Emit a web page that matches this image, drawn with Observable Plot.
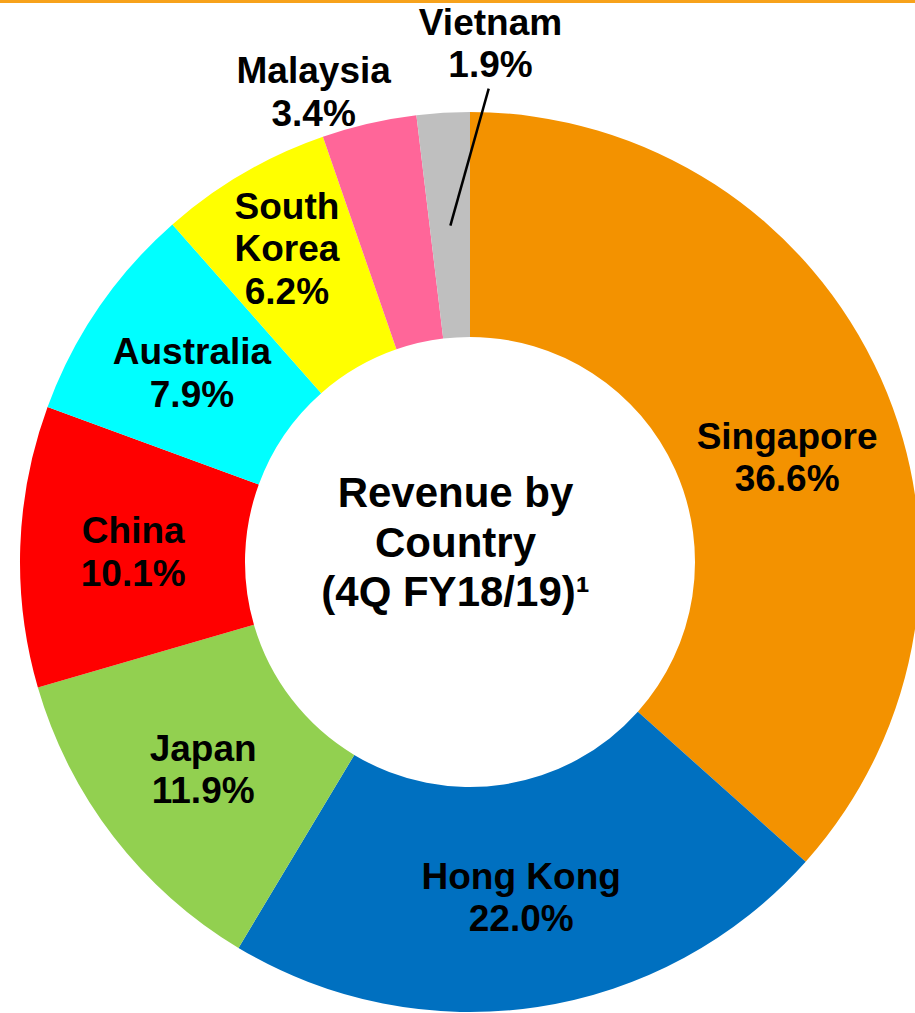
<!DOCTYPE html>
<html><head><meta charset="utf-8">
<script src="https://cdn.jsdelivr.net/npm/d3@7"></script>
<script src="https://cdn.jsdelivr.net/npm/@observablehq/plot@0.6"></script>
<style>body{margin:0;background:#fff} svg{display:block}</style>
</head><body><div id="chart"></div>
<script>
// ---- data ----
const countries = ["Singapore","Hong Kong","Japan","China","Australia","South Korea","Malaysia","Vietnam"];
const shares = [36.6, 22.0, 11.9, 10.1, 7.9, 6.2, 3.4, 1.9];
const labelNames = ["Singapore","Hong Kong","Japan","China","Australia","South\nKorea","Malaysia","Vietnam"];
const colors = ["#F39200","#0070C0","#92D050","#FF0000","#00FFFF","#FFFF00","#FF6699","#BFBFBF"];
const centerTitle = "Revenue by\nCountry\n(4Q FY18/19)¹";

// ---- layout ----
const W = 915, H = 1013, R = 450, cx = 470, cy = 562, innerFrac = 0.5;
const font = "'Liberation Sans', Arial, Helvetica, sans-serif";
const outside = {Malaysia: {r: 1.104, a: -18.4}, Vietnam: {r: 1.157, a: 2.2, leader: 1.054}};
const nudge = {Singapore: {da: 5.6, dr: -0.008}, "South Korea": {da: 0, dr: 0.06}};

const color = Plot.scale({color: {type: "ordinal", domain: countries, range: colors}});
const rad = d => d * Math.PI / 180;
const pie = d3.pie().sort(null).value(d => d.share)(
  countries.map((c, i) => ({country: c, share: shares[i], label: labelNames[i]}))
);

const labels = pie.map(p => {
  const name = p.data.country;
  const mid = (p.startAngle + p.endAngle) / 2;
  let r = 0.75, a = mid;
  if (outside[name]) { r = outside[name].r; a = rad(outside[name].a); }
  else if (nudge[name]) { r += nudge[name].dr; a += rad(nudge[name].da); }
  return {name, text: p.data.label + "\n" + p.data.share.toFixed(1) + "%", x: r * Math.sin(a), y: r * Math.cos(a)};
});

const leaders = pie.filter(p => outside[p.data.country] && outside[p.data.country].leader).map(p => {
  const o = outside[p.data.country];
  const mid = (p.startAngle + p.endAngle) / 2;
  return {x1: 0.75 * Math.sin(mid), y1: 0.75 * Math.cos(mid), x2: o.leader * Math.sin(rad(o.a)), y2: o.leader * Math.cos(rad(o.a))};
});

function donut(index, scales) {
  const x0 = scales.x(0), y0 = scales.y(0), r = scales.x(1) - x0;
  const arc = d3.arc().innerRadius(r * innerFrac).outerRadius(r);
  const g = d3.create("svg:g").attr("transform", `translate(${x0},${y0})`);
  g.selectAll("path").data(pie).join("path")
    .attr("d", arc)
    .attr("fill", d => color.apply(d.data.country));
  return g.node();
}

const chart = Plot.plot({
  width: W, height: H, margin: 0,
  style: {background: "#fff", fontFamily: font},
  x: {domain: [-cx / R, (W - cx) / R], axis: null},
  y: {domain: [-(H - cy) / R, cy / R], axis: null},
  marks: [
    Plot.frame({anchor: "top", stroke: "#F7A21B", strokeWidth: 5}),
    donut,
    Plot.link(leaders, {x1: "x1", y1: "y1", x2: "x2", y2: "y2", stroke: "#000", strokeWidth: 2.5}),
    Plot.text(labels, {x: "x", y: "y", text: "text", fill: "#000", fontSize: 37, fontWeight: "bold", lineHeight: 1.15, fontFamily: font}),
    Plot.text([centerTitle], {x: 0, y: 0, text: d => d, fill: "#000", fontSize: 42, fontWeight: "bold", lineHeight: 1.19, dx: -15, dy: -22, fontFamily: font})
  ]
});
document.getElementById("chart").append(chart);
</script>
</body></html>
